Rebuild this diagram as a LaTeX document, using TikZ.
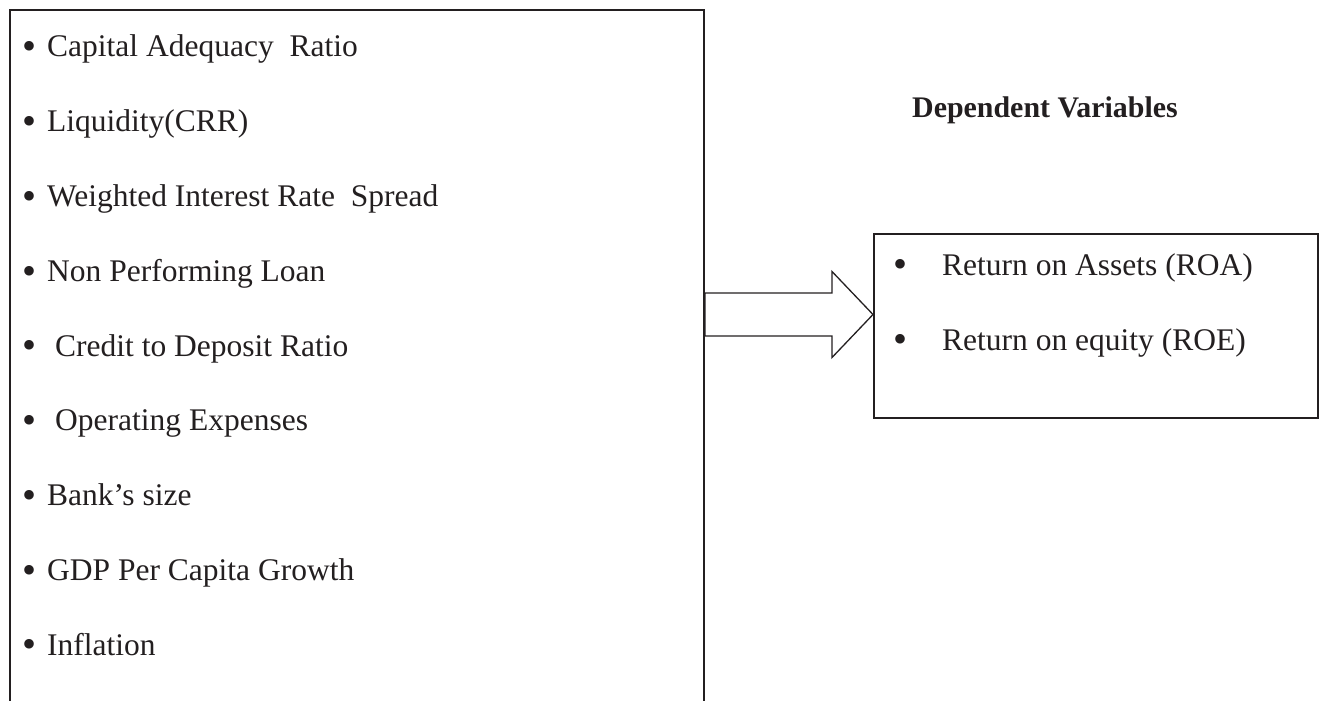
\documentclass[tikz,border=0pt]{standalone}
\usepackage{fontspec}
\setmainfont{Liberation Serif}
\definecolor{inkgray}{RGB}{35,31,32}
\newcommand{\bul}{\makebox[11pt]{\fontsize{40}{40}\selectfont\raisebox{-2.8pt}{\textbullet}}}

\begin{document}
\begin{tikzpicture}[x=1pt,y=-1pt,
  item/.style={anchor=base west, inner sep=0pt, text=inkgray,
    font=\fontsize{31.5}{36}\selectfont},
  head/.style={item, font=\fontsize{29.9}{34}\selectfont\bfseries},
  box/.style={draw=inkgray, line width=1.6pt, anchor=north west, inner sep=0pt},
  bigarrow/.style={draw=inkgray, line width=1.3pt, line join=miter}]
\useasboundingbox (0,0) rectangle (1322,701);
% left box, runs off the bottom of the page
\node[box, minimum width=694, minimum height=760] (indbox) at (9,9) {};
\node[item] (var1) at (23.5,57) {\bul\hspace{12.5pt}Capital Adequacy\ \ Ratio};
\node[item] (var2) at (23.5,131.75) {\bul\hspace{12.5pt}Liquidity(CRR)};
\node[item] (var3) at (23.5,206.5) {\bul\hspace{12.5pt}Weighted Interest Rate\ \ Spread};
\node[item] (var4) at (23.5,281.25) {\bul\hspace{12.5pt}Non Performing Loan};
\node[item] (var5) at (23.5,356) {\bul\hspace{20.5pt}Credit to Deposit Ratio};
\node[item] (var6) at (23.5,430.75) {\bul\hspace{20.5pt}Operating Expenses};
\node[item] (var7) at (23.5,505.5) {\bul\hspace{12.5pt}Bank’s size};
\node[item] (var8) at (23.5,580.25) {\bul\hspace{12.5pt}GDP Per Capita Growth};
\node[item] (var9) at (23.5,655) {\bul\hspace{12.5pt}Inflation};
% right side
\node[head] (deptitle) at (912,117) {Dependent Variables};
\node[box, minimum width=444, minimum height=184] (depbox) at (873,233) {};
\node[item] (roa) at (894.5,275) {\bul\hspace{36.5pt}Return on Assets (ROA)};
\node[item] (roe) at (894.5,350) {\bul\hspace{36.5pt}Return on equity (ROE)};
% block arrow between the boxes
\coordinate (tail) at (705,314.5);
\coordinate (tip) at (depbox.west |- tail);
\draw[bigarrow] (tail) ++(0,-21.5) -- ++(127,0) -- ++(0,-21.5) -- (tip)
  -- ++(-41,43) -- ++(0,-21.5) -- ++(-127,0) -- cycle;
\end{tikzpicture}
\end{document}
